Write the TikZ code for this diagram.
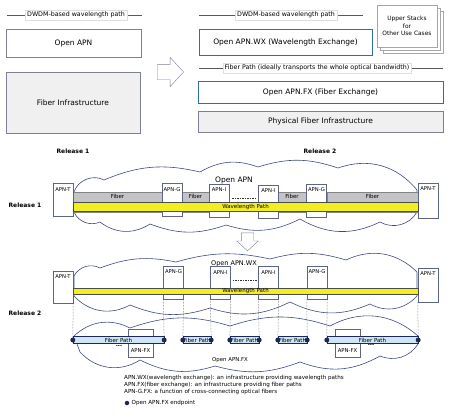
\documentclass[tikz,border=0pt]{standalone}
\usepackage{fontspec}
\setmainfont{DejaVu Sans}
\usepackage{tikz}
\usetikzlibrary{shapes, shapes.arrows, positioning}
\definecolor{boxgray}{RGB}{125, 128, 150}
\definecolor{infrafill}{RGB}{240, 240, 240}
\definecolor{wxblue}{RGB}{46, 110, 176}
\definecolor{cloudblue}{RGB}{60, 72, 135}
\definecolor{apnline}{RGB}{92, 100, 135}
\definecolor{fibfill}{RGB}{196, 196, 196}
\definecolor{fibline}{RGB}{130, 130, 138}
\definecolor{wlyellow}{RGB}{242, 238, 34}
\definecolor{fpfill}{RGB}{206, 230, 243}
\definecolor{navy1}{RGB}{28, 38, 88}

\tikzset{
  topbox/.style={draw=boxgray, fill=white, inner sep=0pt, font=\fontsize{7.5}{9}\selectfont},
  infrabox/.style={topbox, fill=infrafill},
  xbox/.style={draw=wxblue, line width=1pt, fill=white, inner sep=0pt, font=\fontsize{7.5}{9}\selectfont},
  stackbox/.style={draw=gray!70, fill=white, minimum width=60pt, minimum height=42pt, inner sep=0pt, align=center, font=\fontsize{5.9}{7.5}\selectfont},
  tag/.style={draw=gray!25, fill=white, inner sep=2pt, font=\fontsize{6.3}{7}\selectfont},
  sepline/.style={draw=gray!70!black, line width=0.5pt},
  hollow/.style={single arrow, draw=boxgray, fill=white, inner xsep=0pt, single arrow head indent=0pt, single arrow tip angle=95},
  relhead/.style={font=\fontsize{6}{7}\bfseries\selectfont},
  cloudline/.style={draw=cloudblue, line width=0.6pt},
  cloudtxt/.style={inner sep=0pt, font=\fontsize{#1}{#1}\selectfont},
  apn/.style={draw=apnline, fill=white, minimum width=20pt, minimum height=33pt, inner sep=0pt,
    label={[font=\fontsize{5.3}{6}\selectfont, anchor=north, inner sep=0pt, yshift=-4pt]north:#1}},
  apnfx/.style={draw=apnline, fill=white, minimum width=25pt, minimum height=28pt, inner sep=0pt,
    label={[font=\fontsize{5.3}{6}\selectfont, anchor=south, inner sep=0pt, yshift=5pt]south:APN-FX}},
  fiber/.style={draw=fibline, fill=fibfill, minimum height=20pt, inner sep=0pt,
    label={[font=\fontsize{5.5}{6}\selectfont, anchor=north, inner sep=0pt, yshift=-2.5pt]north:Fiber}},
  wpath/.style={draw=gray!60!black, fill=wlyellow, minimum width=345pt, inner sep=0pt,
    label={[font=\fontsize{5.5}{6}\selectfont, inner sep=0pt]center:Wavelength Path}},
  fpath/.style={draw=navy1, fill=fpfill, minimum height=7pt, inner sep=0pt,
    label={[font=\fontsize{5.5}{6}\selectfont, inner sep=0pt]center:Fiber Path}},
  epdot/.style={circle, fill=navy1, inner sep=0pt, minimum size=5pt},
  dropline/.style={densely dotted, draw=gray!60!black, line width=0.5pt},
  dashlink/.style={dash pattern=on 1.6pt off 0.9pt, line width=0.8pt, draw=black!80},
  notes/.style={inner sep=0pt, align=left, font=\fontsize{5.6}{7}\selectfont}
}

\begin{document}
\begin{tikzpicture}[x=1pt, y=-1pt]
  \useasboundingbox (0,0) rectangle (450,415);

  % Top: before
  \coordinate (s1a) at (7,15);  \coordinate (s1b) at (142,15);
  \draw[sepline] (s1a) -- (s1b);
  \node[tag] (dwdm1) at (76,15) {DWDM-based wavelength path};
  \node[topbox, minimum width=135pt, minimum height=28pt] (apn) at (73.5,43) {Open APN};
  \node[infrabox, minimum width=134pt, minimum height=61pt] (fi) at (73,102.5) {Fiber Infrastructure};

  \node[hollow, minimum height=26pt, inner ysep=7.5pt, single arrow head extend=7pt] (arr1) at (167,72) {};

  % Top: after
  \coordinate (s2a) at (199,15);  \coordinate (s2b) at (363,15);
  \draw[sepline] (s2a) -- (s2b);
  \node[tag] (dwdm2) at (286,15) {DWDM-based wavelength path};
  \node[xbox, minimum width=173pt, minimum height=26pt] (wx) at (285.5,42) {Open APN.WX (Wavelength Exchange)};
  \foreach \d/\nm in {6/stackc, 3/stackb}
    \node[stackbox] (\nm) at (407+\d,26+\d) {};
  \node[stackbox] (stack) at (407,26) {Upper Stacks\\for\\Other Use Cases};
  \coordinate (s3a) at (199,68);  \coordinate (s3b) at (443,68);
  \draw[sepline] (s3a) -- (s3b);
  \node[tag] (fptag) at (317,68) {Fiber Path (ideally transports the whole optical bandwidth)};
  \node[xbox, minimum width=245pt, minimum height=22pt] (fx) at (320.5,92) {Open APN.FX (Fiber Exchange)};
  \node[infrabox, minimum width=245pt, minimum height=21pt] (pfi) at (320.5,121.5) {Physical Fiber Infrastructure};

  % Release headers
  \node[relhead] (rh1) at (73,151) {Release 1};
  \node[relhead] (rh2) at (320,151) {Release 2};
  \node[relhead] (rs1) at (25,205) {Release 1};
  \node[relhead] (rs2) at (25,313) {Release 2};

  % Release 1
  \draw[cloudline] (74,192)
    \foreach \px/\py/\b in {104/180/50, 200/172/18, 258/167/25, 338/168/18, 417/190/35,
                            417/212/0, 380/222/45, 300/219/28, 226/225/22, 150/224/20, 100/222/35, 74/212/45}
      { to[bend left=\b] (\px,\py) } -- cycle;
  \node[cloudtxt=7.5] (cl1t) at (234,180) {Open APN};
  \node[fiber, minimum width=89pt] (fib1) at (117.5,202) {};
  \node[fiber, minimum width=27pt] (fib2) at (195.5,202) {};
  \node[fiber, minimum width=28pt] (fib3) at (292,202) {};
  \node[fiber, minimum width=91pt] (fib4) at (372.5,202) {};
  \node[apn=APN-T] (t1a) at (63,200) {};
  \node[apn=APN-G] (g1a) at (172,200) {};
  \node[apn=APN-I] (i1a) at (219,200.5) {};
  \node[apn=APN-I] (i1b) at (268.5,201.5) {};
  \node[apn=APN-G] (g1b) at (316.5,200.5) {};
  \node[apn=APN-T, minimum height=35pt] (t1b) at (428,200.5) {};
  \draw[dashlink] ([xshift=3pt,yshift=2.5pt]i1a.east) -- ([xshift=-1.5pt,yshift=3.5pt]i1b.west);
  \node[wpath, minimum height=9pt] (wp1) at (245.5,206.5) {};

  % Release 2
  \draw[cloudline] (74,276)
    \foreach \px/\py/\b in {100/268/45, 176/262/16, 270/259/14, 346/260/16, 417/272/35,
                            417/296/0, 370/304/38, 290/302/25, 210/308/22, 130/305/20, 74/296/38}
      { to[bend left=\b] (\px,\py) } -- cycle;
  \node[cloudtxt=6.5] (cl2t) at (234,264) {Open APN.WX};
  \draw[cloudline] (74,336)
    \foreach \px/\py/\b in {130/328/35, 230/326/18, 330/326/18, 418/336/35,
                            418/344/0, 380/356/40, 300/362/25, 215/366/18, 140/360/22, 80/352/40}
      { to[bend left=\b] (\px,\py) } -- cycle;
  \node[cloudtxt=5.4] (cl3t) at (230,360) {Open APN.FX};

  \node[hollow, rotate=-90, minimum height=18pt, inner ysep=6pt, single arrow head extend=4.5pt] (arr2) at (247.5,239) {};

  \node[apn=APN-T, minimum height=32pt] (t2a) at (63,287) {};
  \node[apn=APN-G] (g2a) at (173.5,282.5) {};
  \node[apn=APN-I] (i2a) at (220.5,283) {};
  \node[apn=APN-I] (i2b) at (268.5,283) {};
  \node[apn=APN-G] (g2b) at (317,282.5) {};
  \node[apn=APN-T, minimum height=34pt] (t2b) at (428,285) {};
  \draw[dashlink] ([xshift=2pt,yshift=3pt]i2a.east) -- ([xshift=-1.5pt,yshift=3pt]i2b.west);
  \node[wpath, minimum height=6pt] (wp2) at (245.5,291) {};

  \node[apnfx] (fx1) at (140.5,343) {};
  \node[apnfx] (fx2) at (347.5,343) {};
  \node[font=\fontsize{5}{5}\bfseries\selectfont, inner sep=0pt] (more1) at (119,347) {-{}-{}-};
  \node[font=\fontsize{5}{5}\bfseries\selectfont, inner sep=0pt] (more2) at (371,346) {-{}-{}-};

  \node[fpath, minimum width=91pt] (fp1) at (118.5,340) {};
  \node[fpath, minimum width=28pt] (fp2) at (197,340) {};
  \node[fpath, minimum width=29pt] (fp3) at (244.5,340) {};
  \node[fpath, minimum width=29pt] (fp4) at (292.5,340) {};
  \node[fpath, minimum width=91pt] (fp5) at (372.5,340) {};
  \foreach \i in {1,...,5} {
    \node[epdot] (e\i a) at (fp\i.west) {};
    \node[epdot] (e\i b) at (fp\i.east) {};
  }

  \draw[dropline] (t2a.south east) -- (e1a);
  \draw[dropline] (g2a.south west) -- (e1b);
  \draw[dropline] (g2a.south east) -- (e2a);
  \draw[dropline] (i2a.south west) -- (e2b);
  \draw[dropline] (i2a.south east) -- (e3a);
  \draw[dropline] (i2b.south west) -- (e3b);
  \draw[dropline] (i2b.south east) -- (e4a);
  \draw[dropline] (g2b.south west) -- (e4b);
  \draw[dropline] (g2b.south east) -- (e5a);
  \draw[dropline] (t2b.south west) -- (e5b);

  % Notes
  \node[notes, anchor=west] (notes) at (124,385) {APN.WX(wavelength exchange): an infrastructure providing wavelength paths\\
    APN.FX(fiber exchange): an infrastructure providing fiber paths\\
    APN-G.FX: a function of cross-connecting optical fibers};
  \node[epdot, minimum size=4.5pt] (bul) at (127,403) {};
  \node[notes, right=2pt of bul] (bult) {Open APN.FX endpoint};
\end{tikzpicture}
\end{document}
